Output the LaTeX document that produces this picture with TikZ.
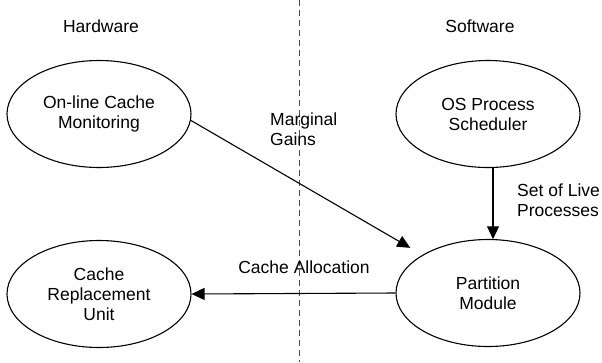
\documentclass[tikz,border=0pt]{standalone}
\usepackage{fontspec}
\setmainfont{Liberation Sans}
\usetikzlibrary{shapes.geometric,arrows.meta}
\begin{document}
\begin{tikzpicture}[x=1pt,y=-1pt,
  every node/.style={font=\fontsize{17.5}{20}\selectfont},
  oval/.style={ellipse,draw,line width=1.1pt,minimum width=184pt,minimum height=107pt,inner sep=0pt,align=center},
  lbl/.style={align=left,anchor=west,inner sep=0pt},
  arr/.style={line width=1.1pt,-{Triangle[length=13pt,width=12pt]}},
  divider/.style={line width=0.9pt,draw=black!70,dash pattern=on 6pt off 4pt}
]
\useasboundingbox (0,0) rectangle (602,362);
\coordinate (dtop) at (299,0);
\coordinate (dbot) at (299,362);
\draw[divider] (dtop) -- (dbot);
\node (hw) at (101,26) {Hardware};
\node (sw) at (480,26) {Software};
\node[oval] (mon) at (99,114) {On-line Cache\\Monitoring};
\node[oval] (os) at (488,114) {OS Process\\Scheduler};
\node[oval] (cru) at (99,294) {Cache\\Replacement\\Unit};
\node[oval] (pm) at (488,293) {Partition\\Module};
\node[lbl] (mg) at (270,129) {Marginal\\Gains};
\node[lbl] (sl) at (517,200) {Set of Live\\Processes};
\node (ca) at (304,267) {Cache Allocation};
\coordinate (osb) at ([xshift=5pt]os.south);
\coordinate (pmt) at ([xshift=5pt,yshift=-0.3pt]pm.north);
\draw[arr] (mon.-4) -- (pm) [shorten >=14pt];
\draw[arr] (osb) -- (pmt);
\draw[arr] (pm.west) -- (cru.east);
\end{tikzpicture}
\end{document}
